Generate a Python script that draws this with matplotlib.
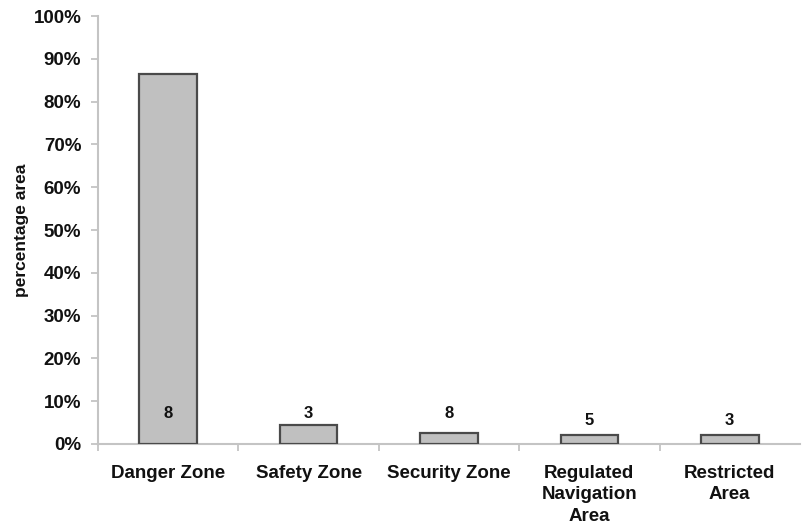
import matplotlib
matplotlib.use("Agg")
import matplotlib.pyplot as plt
from matplotlib.ticker import FuncFormatter

categories = ["Danger Zone", "Safety Zone", "Security Zone",
              "Regulated\nNavigation\nArea", "Restricted\nArea"]
pct_area   = [86.4, 4.4, 2.6, 2.2, 2.2]
counts     = [8, 3, 8, 5, 3]

AXIS_GREY = "#c4c4c4"
BAR_FILL  = "#c0c0c0"
BAR_EDGE  = "#4a4a4a"

plt.rcParams["font.family"] = ["Liberation Sans", "DejaVu Sans"]
plt.rcParams["font.weight"] = "bold"

fig = plt.figure(figsize=(8.08, 5.27), dpi=100)
ax = fig.add_axes([0.1213, 0.1575, 0.8687, 0.8121])

x = list(range(len(categories)))
ax.bar(x, pct_area, width=0.41, color=BAR_FILL, edgecolor=BAR_EDGE,
       linewidth=1.6, zorder=3)

# count labels just above the small bars, inside the tall one
label_y = [7.2, 7.2, 7.2, 5.6, 5.6]
for xi, c, ly in zip(x, counts, label_y):
    ax.text(xi, ly, str(c), ha="center", va="center",
            fontsize=12, fontweight="bold", color="#111111", zorder=4)

ax.set_xlim(-0.5, 4.5)
ax.set_ylim(0, 100)
ax.set_yticks(range(0, 101, 10))
ax.yaxis.set_major_formatter(FuncFormatter(lambda v, _: f"{v:.0f}%"))

ax.set_xticks(x)
ax.set_xticklabels(categories, linespacing=1.35)
ax.set_xticks([-0.5, 0.5, 1.5, 2.5, 3.5], minor=True)

ax.tick_params(axis="x", which="major", length=0, pad=15,
               labelsize=13.5, colors="#111111")
ax.tick_params(axis="x", which="minor", length=5, width=1.3,
               color=AXIS_GREY)
ax.tick_params(axis="y", length=5, width=1.3, color=AXIS_GREY,
               pad=7, labelsize=13.5, labelcolor="#111111")
for lab in ax.get_xticklabels() + ax.get_yticklabels():
    lab.set_fontweight("bold")

for side in ["top", "right"]:
    ax.spines[side].set_visible(False)
for side in ["left", "bottom"]:
    ax.spines[side].set_color(AXIS_GREY)
    ax.spines[side].set_linewidth(1.5)

ax.set_ylabel("percentage area", fontsize=12.5, fontweight="bold",
              color="#111111")
ax.yaxis.set_label_coords(-0.098, 0.5)

plt.savefig("out.png", dpi=100)
plt.close()
